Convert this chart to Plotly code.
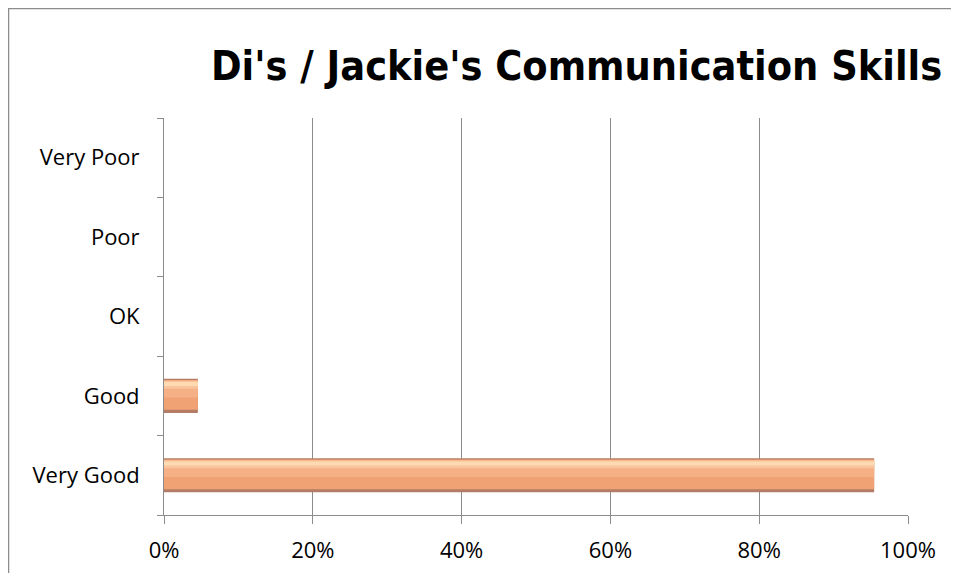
import plotly.graph_objects as go

categories = ["Very Good", "Good", "OK", "Poor", "Very Poor"]
values = [95.45, 4.55, 0, 0, 0]
tick_vals = [0, 20, 40, 60, 80, 100]
tick_text = ["0%", "20%", "40%", "60%", "80%", "100%"]
title_text = "Di's / Jackie's Communication Skills"

# page has an 8px body margin, so figure is 943x565 placed at (8, 8)
W, H = 943, 565
L, R, T, B = 156, 43, 110, 58
pw, ph = W - L - R, H - T - B

# bevel layers: (offset, width, colour)
layers = [
    (-0.215, 0.43, "#B47C64"),
    (-0.175, 0.375, "#F0A274"),
    (-0.02, 0.19, "#F5B086"),
    (0.09, 0.10, "#F9C39C"),
    (0.125, 0.05, "#FDDAB2"),
]

fig = go.Figure()
for i, (off, wd, col) in enumerate(layers):
    fig.add_trace(go.Bar(
        x=values, y=categories, orientation="h", width=wd, offset=off,
        marker=dict(color=col, line=dict(width=0)),
        hoverinfo="x+y" if i == 0 else "skip", showlegend=False))

fig.update_layout(
    width=W, height=H,
    margin=dict(l=L, r=R, t=T, b=B, pad=0, autoexpand=False),
    paper_bgcolor="white", plot_bgcolor="white",
    barmode="overlay",
    font=dict(family="Open Sans, Lato, sans-serif", size=22, color="#000000"),
    title=dict(text=title_text, x=568.5 / W, xanchor="center", y=1 - 58 / H, yanchor="middle",
               font=dict(family="DejaVu Sans Condensed, sans-serif",
                         size=41, color="#000000", weight="bold")),
    xaxis=dict(range=[0, 100], tickvals=tick_vals, ticktext=tick_text,
               showgrid=True, gridcolor="#8C8C8C", gridwidth=1,
               showline=True, linecolor="#8C8C8C", linewidth=1,
               ticks="outside", ticklen=8, tickcolor="#8C8C8C", automargin=False,
               zeroline=False, fixedrange=True, ticklabelstandoff=8),
    yaxis=dict(categoryorder="array", categoryarray=categories,
               showline=True, linecolor="#8C8C8C", linewidth=1,
               ticks="outside", ticklen=6, tickcolor="#8C8C8C", tickson="boundaries",
               automargin=False,
               showgrid=False, zeroline=False, ticklabelstandoff=19, fixedrange=True),
    shapes=[dict(type="rect", xref="paper", yref="paper",
                 x0=(0.5 - L) / pw, x1=(W + 10 - L) / pw,
                 y0=(H - B - H - 10) / ph, y1=(H - B - 0.5) / ph,
                 line=dict(color="#8C8C8C", width=1.5), fillcolor="rgba(0,0,0,0)", layer="below")],
)

fig.write_html("out.html")
